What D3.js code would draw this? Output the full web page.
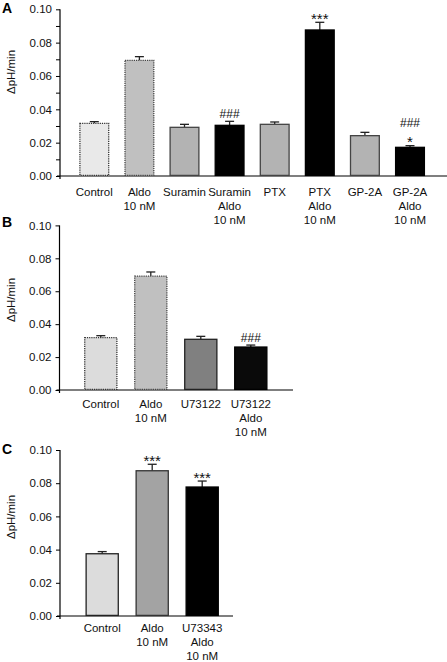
<!DOCTYPE html>
<html><head><meta charset="utf-8">
<script src="https://cdn.jsdelivr.net/npm/d3@7"></script>
<style>body{margin:0;background:#fff}svg{display:block}text{font-family:"Liberation Sans",Arial,sans-serif}</style>
</head><body><svg id="c" width="447" height="662"></svg>
<script>
// ---- Data ----
const catsA = [["Control"],["Aldo","10 nM"],["Suramin"],["Suramin","Aldo","10 nM"],["PTX"],["PTX","Aldo","10 nM"],["GP-2A"],["GP-2A","Aldo","10 nM"]];
const valsA = [0.0316,0.0694,0.0292,0.0304,0.0310,0.0876,0.0242,0.0172];
const errA  = [0.0010,0.0022,0.0018,0.0024,0.0014,0.0046,0.0020,0.0010];
const annA  = [[],[],[],["###"],[],["***"],[],["###","*"]];

const catsB = [["Control"],["Aldo","10 nM"],["U73122"],["U73122","Aldo","10 nM"]];
const valsB = [0.0318,0.0692,0.0308,0.0261];
const errB  = [0.0012,0.0025,0.0018,0.0012];
const annB  = [[],[],[],["###"]];

const catsC = [["Control"],["Aldo","10 nM"],["U73343","Aldo","10 nM"]];
const valsC = [0.0375,0.0875,0.0777];
const errC  = [0.0013,0.0039,0.0036];
const annC  = [[],["***"],["***"]];

const yTicks = [0,0.02,0.04,0.06,0.08,0.10];
const yMinor = [0.01,0.03,0.05,0.07,0.09];

// ---- Styles / layout ----
const styleA = [
 {fill:"#e9e9e9",stroke:"#333",dash:"1.2,1"},
 {fill:"#c0c0c0",stroke:"#444",dash:"1.2,1"},
 {fill:"#b3b3b3",stroke:"#444"},{fill:"#000",stroke:"#000"},
 {fill:"#b3b3b3",stroke:"#444"},{fill:"#000",stroke:"#000"},
 {fill:"#b3b3b3",stroke:"#444"},{fill:"#000",stroke:"#000"}];
const styleB = [
 {fill:"#dcdcdc",stroke:"#333",dash:"1.2,1"},
 {fill:"#c0c0c0",stroke:"#444",dash:"1.2,1"},
 {fill:"#808080",stroke:"#222"},{fill:"#0a0a0a",stroke:"#000"}];
const styleC = [
 {fill:"#dcdcdc",stroke:"#222"},{fill:"#a3a3a3",stroke:"#333"},{fill:"#000",stroke:"#000"}];

const svg = d3.select("#c");

function panel(o){
  const g = svg.append("g");
  const y = d3.scaleLinear().domain([0,0.10]).range([o.y0,o.y1]);
  const x = d3.scaleBand().domain(d3.range(o.cats.length)).range(o.xr).paddingInner(o.pad).paddingOuter(o.pad/2);
  g.append("line").attr("x1",o.ax).attr("x2",o.ax).attr("y1",y(0.10)).attr("y2",y(0)+3).attr("stroke","#000").attr("stroke-width",1.2);
  g.append("line").attr("x1",o.ax-3).attr("x2",o.xEnd).attr("y1",y(0)).attr("y2",y(0)).attr("stroke","#000").attr("stroke-width",1.2);
  const ya = d3.axisLeft(y).tickValues(yTicks).tickFormat(d3.format(".2f")).tickSize(4).tickPadding(4);
  const ag = g.append("g").attr("transform",`translate(${o.ax},0)`).call(ya);
  ag.select(".domain").remove();
  ag.selectAll("text").attr("font-size","11.5px").attr("fill","#111").attr("font-family","Liberation Sans, Arial, sans-serif");
  ag.selectAll("line").attr("stroke","#000");
  if(o.minor){
    const mg = g.append("g").attr("transform",`translate(${o.ax},0)`).call(d3.axisLeft(y).tickValues(yMinor).tickSize(4).tickFormat(""));
    mg.select(".domain").remove();
  }
  g.append("text").attr("transform",`translate(${o.labX},${o.labY}) rotate(-90)`).attr("text-anchor","middle")
   .attr("font-size","11.5px").attr("fill","#111").text("ΔpH/min");
  g.append("text").attr("x",2).attr("y",o.letY).attr("font-size","14px").attr("font-weight","bold").text(o.letter);
  o.vals.forEach((v,i)=>{
    const s = o.style[i];
    const bx = x(i), bw = x.bandwidth();
    const top = y(v+o.err[i]);
    const cx = bx+bw/2;
    g.append("line").attr("x1",cx).attr("x2",cx).attr("y1",y(v)).attr("y2",top).attr("stroke","#222").attr("stroke-width",1.3);
    g.append("line").attr("x1",cx-4.5).attr("x2",cx+4.5).attr("y1",top).attr("y2",top).attr("stroke","#222").attr("stroke-width",1.3);
    g.append("rect").attr("x",bx+0.6).attr("y",y(v)).attr("width",bw-1.2).attr("height",y(0)-y(v)-0.6)
     .attr("fill",s.fill).attr("stroke",s.stroke).attr("stroke-width",1.3).attr("stroke-dasharray",s.dash||null);
    const ann = o.ann[i];
    ann.forEach((a,k)=>{
      let yy;
      if(a.startsWith("*")) yy = top + 1.5;
      else yy = ann.length===2 ? top-19 : top-3.5;
      g.append("text").attr("x",cx).attr("y",yy).attr("text-anchor","middle")
       .attr("font-size", a.startsWith("*")?"15px":"12px").attr("fill","#111").text(a);
    });
    o.cats[i].forEach((t,k)=>{
      g.append("text").attr("x",cx).attr("y",o.catY+k*14).attr("text-anchor","middle")
       .attr("font-size","11.5px").attr("fill","#111").text(t);
    });
  });
}

panel({letter:"A",letY:13,cats:catsA,vals:valsA,err:errA,ann:annA,style:styleA,
  y0:176,y1:9.3,ax:60,xEnd:447,xr:[71.75,432.55],pad:0.335,minor:true,labX:15,labY:72,catY:196});
panel({letter:"B",letY:227,cats:catsB,vals:valsB,err:errB,ann:annB,style:styleB,
  y0:390,y1:225.4,ax:59.5,xEnd:293,xr:[75.8,275.8],pad:0.333,minor:false,labX:15,labY:300,catY:408});
panel({letter:"C",letY:454,cats:catsC,vals:valsC,err:errC,ann:annC,style:styleC,
  y0:616,y1:450,ax:60,xEnd:233,xr:[77.2,227.2],pad:0.333,minor:false,labX:15,labY:517,catY:632});
</script></body></html>
